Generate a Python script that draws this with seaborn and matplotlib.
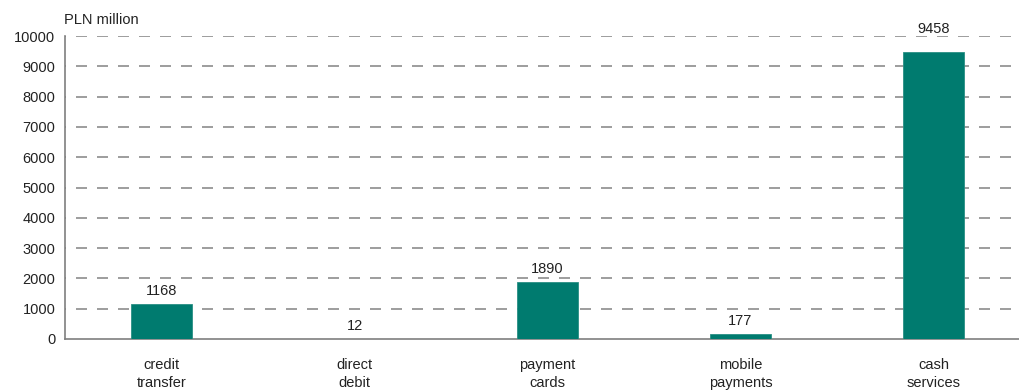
import matplotlib
matplotlib.use("Agg")
import matplotlib.pyplot as plt
import seaborn as sns
import pandas as pd

categories = ["credit\ntransfer", "direct\ndebit", "payment\ncards", "mobile\npayments", "cash\nservices"]
values = [1168, 12, 1890, 177, 9458]
yticks = [0, 1000, 2000, 3000, 4000, 5000, 6000, 7000, 8000, 9000, 10000]

sns.set_theme(style="white")
plt.rcParams['font.family'] = ['Liberation Sans', 'DejaVu Sans']
plt.rcParams['font.size'] = 10.5

df = pd.DataFrame({"cat": categories, "val": values})

fig = plt.figure(figsize=(10.19, 3.9), dpi=100)
ax = fig.add_axes([65/1019, 51/390, 965/1019, 303/390])

sns.barplot(data=df, x="cat", y="val", color="#007B6F", width=0.32, ax=ax,
            saturation=1, edgecolor="#2a8f84", linewidth=0.6, zorder=3)

ax.set_ylim(0, 10000)
ax.set_xlim(-0.5, len(categories) - 0.5)
ax.set_yticks(yticks)
ax.set_yticklabels([str(t) for t in yticks], fontsize=10.5, color="#222222")
ax.set_xlabel("")
ax.set_ylabel("")

for y in yticks[1:]:
    ax.axhline(y, color="#8c8c8c", linestyle=(6.0, (6.6, 6.0)), linewidth=1.2, zorder=1)

ax.set_xticks(range(len(categories)))
ax.set_xticklabels(categories, fontsize=10.5, color="#222222", linespacing=1.35)
ax.tick_params(axis="x", which="major", length=0, pad=14)
ax.set_xticks([i - 0.5 for i in range(len(categories) + 1)], minor=True)
ax.tick_params(axis="x", which="minor", length=5, width=1, color="#7f7f7f", direction="out")
ax.tick_params(axis="y", which="major", length=8, width=1, color="#7f7f7f", direction="inout", pad=3)

for s in ["top", "right"]:
    ax.spines[s].set_visible(False)
for s in ["left", "bottom"]:
    ax.spines[s].set_color("#7f7f7f")
    ax.spines[s].set_linewidth(1.2)

for i, v in enumerate(values):
    off = 12 if v > 9000 else 4
    ax.annotate(str(v), (i, v), xytext=(0, off), textcoords="offset points",
                ha="center", va="bottom", fontsize=10.5, color="#222222", zorder=4)

fig.text(64/1019, 1 - 20/390, "PLN million", ha="left", va="center", fontsize=10.5, color="#222222")

fig.savefig("out.png", dpi=100)
